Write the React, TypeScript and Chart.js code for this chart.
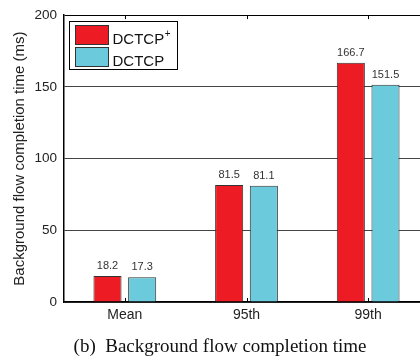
import React, { useEffect, useRef } from "react";
import { Chart, registerables } from "chart.js";

Chart.register(...registerables);

// ---- data ----
const categories = ["Mean", "95th", "99th"];
const seriesNames = ["DCTCP\u207A", "DCTCP"];
const dctcpPlusValues = [18.2, 81.5, 166.7];
const dctcpValues = [17.3, 81.1, 151.5];
const yMin = 0;
const yMax = 200;
const yStep = 50;
const yTitle = "Background flow completion time (ms)";
const caption = "(b)  Background flow completion time";

const SANS = "'Liberation Sans', Arial, Helvetica, sans-serif";
const SERIF = "'Liberation Serif', 'Times New Roman', Times, serif";
const RED = "#ED1C24";
const CYAN = "#6BCADB";

const valueLabels = {
  id: "valueLabels",
  afterDatasetsDraw(chart: any) {
    const ctx = chart.ctx;
    ctx.save();
    ctx.font = `11px ${SANS}`;
    ctx.fillStyle = "#333";
    ctx.textAlign = "center";
    ctx.textBaseline = "alphabetic";
    chart.data.datasets.forEach((ds: any, di: number) => {
      const meta = chart.getDatasetMeta(di);
      meta.data.forEach((el: any, i: number) => {
        ctx.fillText(Number(ds.data[i]).toFixed(1), el.x, el.y - 7);
      });
    });
    ctx.restore();
  },
};

const tickMarks = {
  id: "tickMarks",
  afterDatasetsDraw(chart: any) {
    const ctx = chart.ctx;
    const xs = chart.scales.x;
    const { top, bottom } = chart.chartArea;
    ctx.save();
    ctx.strokeStyle = "#000";
    ctx.lineWidth = 1;
    xs.ticks.forEach((_t: any, i: number) => {
      const px = Math.round(xs.getPixelForTick(i)) + 0.5;
      ctx.beginPath();
      ctx.moveTo(px, bottom);
      ctx.lineTo(px, bottom - 4);
      ctx.moveTo(px, top);
      ctx.lineTo(px, top + 4);
      ctx.stroke();
    });
    ctx.restore();
  },
};

const boxedLegend = {
  id: "boxedLegend",
  afterDraw(chart: any) {
    const ctx = chart.ctx;
    const { left, top } = chart.chartArea;
    const bx = Math.round(left + 5) + 0.5;
    const by = Math.round(top + 6) + 0.5;
    const bw = 108;
    const bh = 48;
    ctx.save();
    ctx.fillStyle = "#fff";
    ctx.fillRect(bx, by, bw, bh);
    ctx.strokeStyle = "#000";
    ctx.lineWidth = 1;
    ctx.strokeRect(bx, by, bw, bh);
    chart.data.datasets.forEach((ds: any, i: number) => {
      const sx = bx + 6;
      const sy = by + 4 + i * 22;
      ctx.fillStyle = ds.backgroundColor;
      ctx.fillRect(sx, sy, 33, 19);
      ctx.strokeStyle = "#333";
      ctx.strokeRect(sx, sy, 33, 19);
      let label: string = ds.label;
      let sup = "";
      if (label.endsWith("\u207A")) {
        label = label.slice(0, -1);
        sup = "+";
      }
      ctx.fillStyle = "#111";
      ctx.font = `15px ${SANS}`;
      ctx.textAlign = "left";
      ctx.textBaseline = "alphabetic";
      const tx = sx + 37;
      const ty = sy + 18.5;
      ctx.fillText(label, tx, ty);
      if (sup) {
        const w = ctx.measureText(label).width;
        ctx.font = `10px ${SANS}`;
        ctx.fillText(sup, tx + w + 0.5, ty - 7);
      }
    });
    ctx.restore();
  },
};

export default function App() {
  const ref = useRef<HTMLCanvasElement | null>(null);

  useEffect(() => {
    if (!ref.current) return;
    const chart = new Chart(ref.current, {
      type: "bar",
      data: {
        labels: categories,
        datasets: [
          {
            label: seriesNames[0],
            data: dctcpPlusValues,
            backgroundColor: RED,
            borderColor: "#333",
            borderWidth: 1,
            categoryPercentage: 0.57,
            barPercentage: 0.81,
          },
          {
            label: seriesNames[1],
            data: dctcpValues,
            backgroundColor: CYAN,
            borderColor: "#333",
            borderWidth: 1,
            categoryPercentage: 0.57,
            barPercentage: 0.81,
          },
        ],
      },
      options: {
        responsive: false,
        animation: false,
        devicePixelRatio: 1,
        layout: { padding: { top: 14, right: 11, bottom: 0, left: 0 } },
        plugins: {
          legend: { display: false },
          tooltip: { enabled: false },
          title: { display: false },
        },
        scales: {
          x: {
            type: "category",
            offset: true,
            grid: {
              display: true,
              color: "rgba(0,0,0,0)",
              drawTicks: false,
              offset: true,
            },
            border: { display: true, color: "#000", width: 1.5 },
            ticks: {
              font: { family: SANS, size: 14 },
              color: "#222",
              padding: 5,
            },
            afterFit: (s: any) => {
              s.height = 60;
            },
          },
          y: {
            min: yMin,
            max: yMax,
            ticks: {
              stepSize: yStep,
              font: { family: SANS, size: 13.5 },
              color: "#222",
              padding: 7,
            },
            grid: {
              color: (c: any) =>
                c.tick && c.tick.value === yMax ? "#000" : "#444",
              drawTicks: false,
              lineWidth: 1,
            },
            border: { display: true, color: "#000", width: 1.5 },
            title: {
              display: true,
              text: yTitle,
              font: { family: SANS, size: 15 },
              color: "#222",
              padding: { top: 11, bottom: 0 },
            },
            afterFit: (s: any) => {
              s.width = 64;
            },
          },
        },
      },
      plugins: [tickMarks, valueLabels, boxedLegend],
    } as any);
    return () => chart.destroy();
  }, []);

  return (
    <div
      style={{
        position: "absolute",
        left: 0,
        top: 0,
        width: 420,
        height: 362,
        overflow: "hidden",
        background: "#fff",
      }}
    >
      <canvas
        ref={ref}
        width={440}
        height={362}
        style={{ display: "block", width: 440, height: 362 }}
      />
      <div
        style={{
          position: "absolute",
          left: 0,
          top: 335,
          width: 440,
          textAlign: "center",
          fontFamily: SERIF,
          fontSize: 19,
          lineHeight: "22px",
          color: "#111",
          whiteSpace: "pre",
        }}
      >
        {caption}
      </div>
    </div>
  );
}
